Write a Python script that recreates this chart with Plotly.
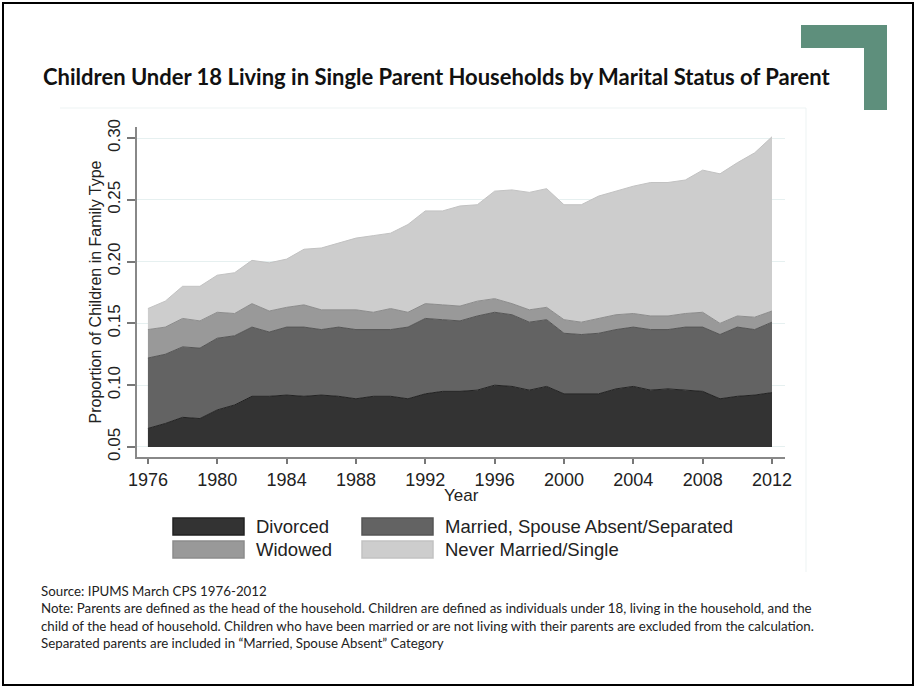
import numpy as np
import plotly.graph_objs as go

# Shares of children under 18, by marital status of the single parent
years = list(range(1976, 2013))

divorced = [0.065, 0.069, 0.074, 0.073, 0.080, 0.084, 0.091, 0.091, 0.092, 0.091,
            0.092, 0.091, 0.089, 0.091, 0.091, 0.089, 0.093, 0.095, 0.095, 0.096,
            0.100, 0.099, 0.096, 0.099, 0.093, 0.093, 0.093, 0.097, 0.099, 0.096,
            0.097, 0.096, 0.095, 0.089, 0.091, 0.092, 0.094]
married_absent = [0.057, 0.056, 0.057, 0.057, 0.058, 0.056, 0.056, 0.052, 0.055, 0.056,
                  0.053, 0.056, 0.056, 0.054, 0.054, 0.058, 0.061, 0.058, 0.057, 0.060,
                  0.059, 0.058, 0.055, 0.054, 0.049, 0.048, 0.049, 0.048, 0.048, 0.049,
                  0.048, 0.051, 0.052, 0.052, 0.056, 0.053, 0.057]
widowed = [0.023, 0.022, 0.023, 0.022, 0.021, 0.018, 0.019, 0.017, 0.016, 0.018,
           0.016, 0.014, 0.016, 0.014, 0.017, 0.012, 0.012, 0.012, 0.012, 0.012,
           0.011, 0.009, 0.010, 0.010, 0.011, 0.010, 0.012, 0.012, 0.011, 0.011,
           0.011, 0.011, 0.012, 0.009, 0.009, 0.010, 0.009]
never_married = [0.017, 0.021, 0.026, 0.028, 0.030, 0.033, 0.035, 0.039, 0.039, 0.045,
                 0.050, 0.054, 0.058, 0.062, 0.061, 0.071, 0.075, 0.076, 0.081, 0.078,
                 0.087, 0.092, 0.095, 0.096, 0.093, 0.095, 0.099, 0.100, 0.103, 0.108,
                 0.108, 0.108, 0.115, 0.121, 0.124, 0.133, 0.141]

categories = ['Divorced', 'Married, Spouse Absent/Separated', 'Widowed', 'Never Married/Single']
series = [divorced, married_absent, widowed, never_married]
fills = ['#333333', '#636363', '#999999', '#cdcdcd']
edges = ['#222222', '#555555', '#8c8c8c', '#c2c2c2']

y_ticks = [0.05, 0.10, 0.15, 0.20, 0.25, 0.30]
x_ticks = list(range(1976, 2013, 4))
base = 0.05  # areas are filled down to the axis minimum

source = 'Source: IPUMS March CPS 1976-2012'
notes = [
    'Note: Parents are defined as the head of the household. Children are defined as individuals under 18, living in the household, and the',
    'child of the head of household. Children who have been married or are not living with their parents are excluded from the calculation.',
    'Separated parents are included in \u201cMarried, Spouse Absent\u201d Category',
]

W, H = 916, 688
L, R, T, B = 137, 785, 127, 457


def px(x):
    return (x - L) / (R - L)


def py(y):
    return (B - y) / (B - T)


# stacked areas
cum = np.cumsum(np.array(series), axis=0)
data = [go.Scatter(x=years, y=[base] * len(years), mode='lines',
                   line=dict(width=0, color='rgba(0,0,0,0)'),
                   showlegend=False, hoverinfo='skip')]
for name, top, fc, ec in zip(categories, cum, fills, edges):
    data.append(go.Scatter(x=years, y=top, name=name, mode='lines',
                           fill='tonexty', fillcolor=fc,
                           line=dict(color=ec, width=1)))

shapes = []
annotations = []

# outer frame, faint image frame, green corner
shapes.append(dict(type='rect', xref='paper', yref='paper',
                   x0=px(3), x1=px(913), y0=py(685), y1=py(3),
                   line=dict(color='black', width=2)))
shapes.append(dict(type='line', xref='paper', yref='paper',
                   x0=px(60), x1=px(806), y0=py(108), y1=py(108),
                   line=dict(color='#edf3f3', width=1)))
shapes.append(dict(type='line', xref='paper', yref='paper',
                   x0=px(806), x1=px(806), y0=py(108), y1=py(572),
                   line=dict(color='#edf3f3', width=1)))
shapes.append(dict(type='rect', xref='paper', yref='paper',
                   x0=px(801), x1=px(887), y0=py(48), y1=py(25),
                   fillcolor='#5e8f7c', line=dict(width=0)))
shapes.append(dict(type='rect', xref='paper', yref='paper',
                   x0=px(864), x1=px(887), y0=py(110), y1=py(25),
                   fillcolor='#5e8f7c', line=dict(width=0)))

# manual legend (2 x 2 grid with large swatches)
col_x = [173, 362]
row_y = [518, 541]
for i, name in enumerate(categories):
    cx = col_x[i % 2]
    ry = row_y[i // 2]
    shapes.append(dict(type='rect', xref='paper', yref='paper',
                       x0=px(cx), x1=px(cx + 71), y0=py(ry + 17), y1=py(ry),
                       fillcolor=fills[i], line=dict(color=edges[i], width=1.5)))
    annotations.append(dict(xref='paper', yref='paper', x=px(cx + 81), y=py(ry + 8.5),
                            text=name, showarrow=False,
                            xanchor='left', yanchor='middle',
                            font=dict(family='Liberation Sans', size=18.5, color='#222222')))

# title
annotations.append(dict(xref='paper', yref='paper', x=px(41), y=py(77),
                        text='<b>Children Under 18 Living in Single Parent Households by Marital Status of Parent</b>',
                        showarrow=False, xanchor='left', yanchor='middle',
                        font=dict(family='Lato', size=22, color='#111111')))

# x axis title
annotations.append(dict(xref='paper', yref='paper', x=0.5, y=py(495),
                        text='Year', showarrow=False, xanchor='center', yanchor='middle',
                        font=dict(family='Liberation Sans', size=17, color='#222222')))

# source and notes
for j, line in enumerate([source] + notes):
    annotations.append(dict(xref='paper', yref='paper', x=px(39), y=py(591 + j * 17.3),
                            text=line, showarrow=False, xanchor='left', yanchor='middle',
                            font=dict(family='Lato', size=13.3, color='#222222')))

layout = go.Layout(
    width=W, height=H,
    margin=dict(l=L, r=W - R, t=T, b=H - B),
    paper_bgcolor='white', plot_bgcolor='white',
    showlegend=False,
    font=dict(family='Liberation Sans', color='#222222'),
    xaxis=dict(range=[1975.37, 2012.75], tickvals=x_ticks, ticks='outside', ticklen=5,
               tickwidth=1.5, tickcolor='#777777', showline=True, linecolor='#888888',
               linewidth=2, showgrid=False, zeroline=False,
               tickfont=dict(size=18, color='#222222')),
    yaxis=dict(range=[0.0419, 0.3089], tickvals=y_ticks, tickformat='.2f', tickangle=-90,
               ticks='outside', ticklen=8, tickwidth=1.5, tickcolor='#777777',
               showline=True, linecolor='#888888', linewidth=2,
               showgrid=True, gridcolor='#e6f0f0', gridwidth=1, zeroline=False,
               tickfont=dict(size=17, color='#222222'),
               title=dict(text='Proportion of Children in Family Type',
                          font=dict(size=16, color='#222222'), standoff=0)),
    shapes=shapes,
    annotations=annotations,
)

fig = go.Figure(data=data, layout=layout)
fig.write_html('out.html', config={'displayModeBar': False},
               post_script="document.body.style.margin='0';")
